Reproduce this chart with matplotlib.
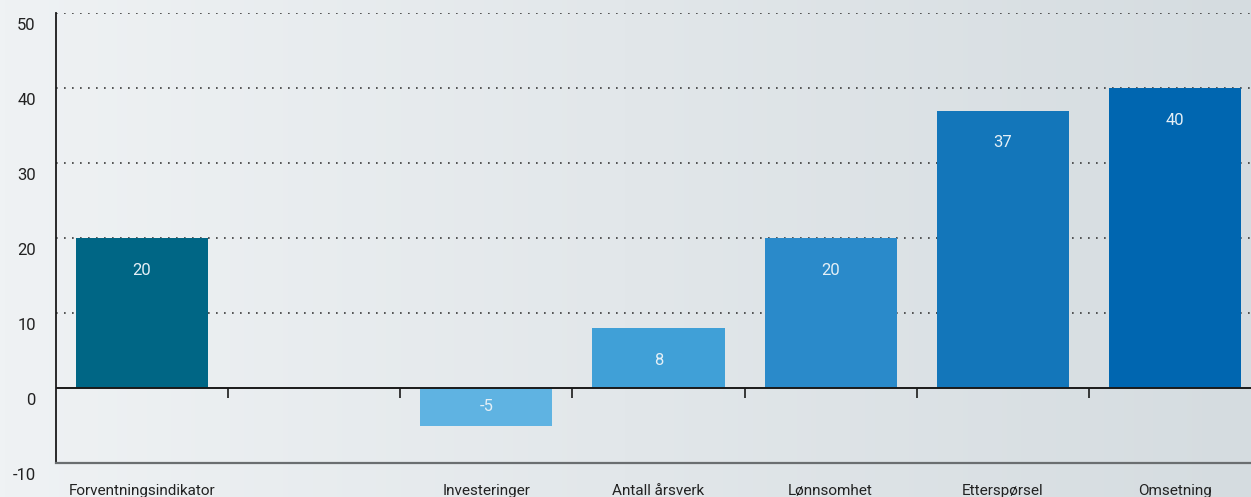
import numpy as np
import matplotlib
matplotlib.use("Agg")
import matplotlib.pyplot as plt
from matplotlib.transforms import ScaledTranslation

plt.rcParams['font.family'] = ['Roboto', 'DejaVu Sans']

# categories, slot 1 is left empty
categories = ["Forventningsindikator", "", "Investeringer", "Antall årsverk",
              "Lønnsomhet", "Etterspørsel", "Omsetning"]
values = [20, None, -5, 8, 20, 37, 40]
colors = ["#006685", None, "#5fb3e2", "#40a0d7", "#2a8aca", "#1376ba", "#0066b0"]
yticks = [-10, 0, 10, 20, 30, 40, 50]

W, H = 1251, 497
fig = plt.figure(figsize=(W / 100, H / 100), dpi=100)

# soft left-to-right background gradient
bg = fig.add_axes([0, 0, 1, 1], zorder=-10)
grad = np.linspace(0, 1, 256)[None, :, None]
c0 = np.array([239, 242, 244]) / 255
c1 = np.array([213, 220, 224]) / 255
img = c0 + (c1 - c0) * grad
bg.imshow(img, aspect='auto', extent=[0, 1, 0, 1])
bg.set_axis_off()

ax = fig.add_axes([56 / W, 34 / H, 1205 / W, 450 / H])
ax.patch.set_alpha(0)

x = np.arange(len(categories))
for i, v in enumerate(values):
    if v is None:
        continue
    ax.bar(x[i], v, width=0.767, color=colors[i], zorder=3)
    if v >= 0:
        ty = v - 4.3
    else:
        ty = v / 2
    ax.text(x[i], ty, str(v), ha='center', va='center', color='#e4eff6',
            fontsize=12, zorder=4)

ax.set_xlim(-0.5, len(categories) - 0.5)
ax.set_ylim(-10, 50)

# dotted grid lines
for t in yticks[2:]:
    ax.axhline(t, color='#3a3a3a', lw=1.2, linestyle=(0, (1, 3.8)), zorder=1)

# zero line with slot separators
ax.axhline(0, color='#1a1a1a', lw=1.4, zorder=5)
ax.vlines(x[:-1] + 0.5, -1.35, 0, color='#1a1a1a', lw=1.2, zorder=5)

ax.spines['top'].set_visible(False)
ax.spines['right'].set_visible(False)
ax.spines['left'].set_color('#1a1a1a')
ax.spines['left'].set_linewidth(1.3)
ax.spines['bottom'].set_color('#6a6e70')
ax.spines['bottom'].set_linewidth(1.6)

ax.set_xticks(x)
ax.set_xticklabels(categories, fontsize=11, color='#222222')
ax.tick_params(axis='x', length=0, pad=15)

ax.set_yticks(yticks)
ax.set_yticklabels([str(t) for t in yticks], fontsize=12, color='#222222')
ax.tick_params(axis='y', length=0, pad=14.5)
shift = ScaledTranslation(0, -11 / 100, fig.dpi_scale_trans)
for lab in ax.get_yticklabels():
    lab.set_transform(lab.get_transform() + shift)

fig.savefig("out.png", dpi=100)
